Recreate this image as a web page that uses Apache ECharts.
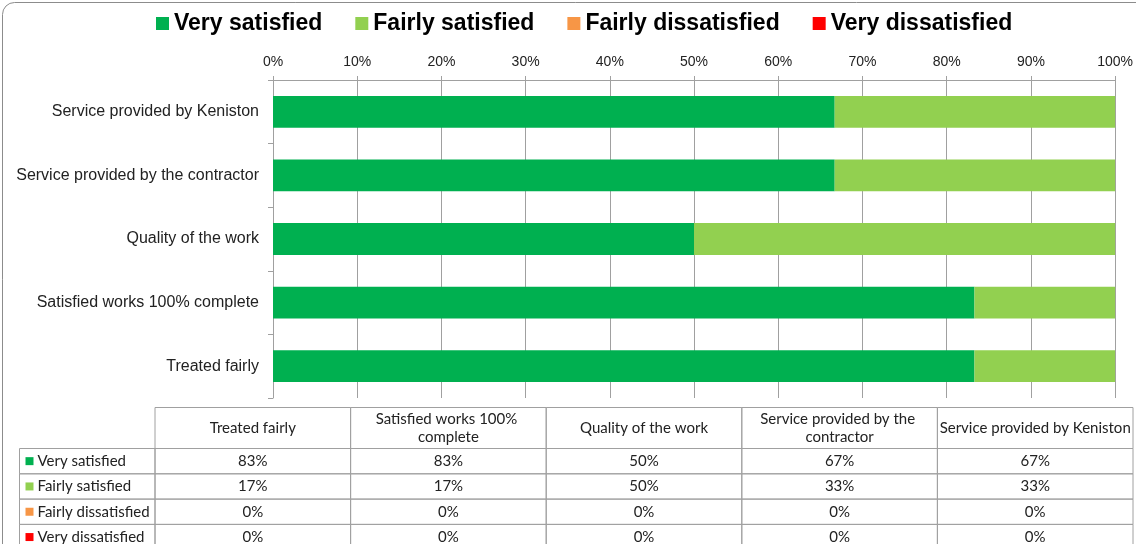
<!DOCTYPE html>
<html>
<head>
<meta charset="utf-8">
<script src="https://cdn.jsdelivr.net/npm/echarts@6/dist/echarts.min.js"></script>
<style>
  html, body { margin: 0; padding: 0; background: #fff; }
  #main { width: 1136px; height: 544px; }
</style>
</head>
<body>
<div id="main"></div>
<script>
// categories, bottom to top on the axis (same order as the table columns)
var categories = ['Treated fairly', 'Satisfied works 100% complete', 'Quality of the work',
  'Service provided by the contractor', 'Service provided by Keniston'];
var seriesNames = ['Very satisfied', 'Fairly satisfied', 'Fairly dissatisfied', 'Very dissatisfied'];
var verySatisfied = [83.3, 83.3, 50, 66.7, 66.7];
var fairlySatisfied = [16.7, 16.7, 50, 33.3, 33.3];
var fairlyDissatisfied = [0, 0, 0, 0, 0];
var veryDissatisfied = [0, 0, 0, 0, 0];
var colors = ['#00B050', '#92D050', '#F79646', '#FF0000'];

var allValues = [verySatisfied, fairlySatisfied, fairlyDissatisfied, veryDissatisfied];

var chart = echarts.init(document.getElementById('main'));

// data table under the plot, built from the same arrays
function buildTable() {
  var els = [];
  var left = 155, colW = 195.6, headTop = 407.5, headH = 41, rowH = 25.3, keyLeft = 19.5;
  var lineColor = '#a0a0a0';
  var font = '15px Lato';
  categories.forEach(function (c, i) {
    var x = left + i * colW;
    els.push({ type: 'rect', shape: { x: x, y: headTop, width: colW, height: headH },
      style: { fill: 'none', stroke: lineColor, lineWidth: 1 } });
    els.push({ type: 'text', x: x + colW / 2, y: headTop + headH / 2,
      style: { text: c, font: font, fill: '#222', align: 'center', verticalAlign: 'middle',
        width: colW, overflow: 'break', lineHeight: 18 } });
  });
  seriesNames.forEach(function (name, r) {
    var y = headTop + headH + r * rowH;
    els.push({ type: 'rect', shape: { x: keyLeft, y: y, width: left - keyLeft, height: rowH },
      style: { fill: 'none', stroke: lineColor, lineWidth: 1 } });
    els.push({ type: 'rect', shape: { x: keyLeft + 6, y: y + rowH / 2 - 4, width: 8, height: 8 },
      style: { fill: colors[r] } });
    els.push({ type: 'text', x: keyLeft + 18, y: y + rowH / 2,
      style: { text: name, font: font, fill: '#222', align: 'left', verticalAlign: 'middle' } });
    allValues[r].forEach(function (v, i) {
      var x = left + i * colW;
      els.push({ type: 'rect', shape: { x: x, y: y, width: colW, height: rowH },
        style: { fill: 'none', stroke: lineColor, lineWidth: 1 } });
      els.push({ type: 'text', x: x + colW / 2, y: y + rowH / 2,
        style: { text: Math.round(v) + '%', font: font, fill: '#222', align: 'center', verticalAlign: 'middle' } });
    });
  });
  // rounded outer frame of the chart area
  els.push({ type: 'rect', shape: { x: 2.5, y: 2.5, width: 1200, height: 600, r: 12 },
    style: { fill: 'none', stroke: '#8c8c8c', lineWidth: 1 }, z: -1 });
  return els;
}

var option = {
  animation: false,
  backgroundColor: '#ffffff',
  color: colors,
  legend: {
    data: seriesNames,
    left: 151,
    top: 7,
    icon: 'rect',
    itemWidth: 13,
    itemHeight: 13,
    itemGap: 33,
    textStyle: { fontFamily: 'Liberation Sans', fontWeight: 'bold', fontSize: 23, color: '#000' }
  },
  grid: { left: 273, right: 20, top: 80, height: 318, containLabel: false },
  xAxis: {
    type: 'value',
    position: 'top',
    min: 0,
    max: 100,
    interval: 10,
    axisLine: { show: true, lineStyle: { color: '#a0a0a0' } },
    axisTick: { show: true, length: 4, lineStyle: { color: '#a0a0a0' } },
    axisLabel: { formatter: '{value}%', fontFamily: 'Liberation Sans', fontSize: 14, color: '#222', margin: 11 },
    splitLine: { show: true, lineStyle: { color: '#a0a0a0' } }
  },
  yAxis: {
    type: 'category',
    data: categories,
    axisLine: { show: true, lineStyle: { color: '#a0a0a0' } },
    axisTick: { show: true, length: 5, lineStyle: { color: '#a0a0a0' } },
    axisLabel: { fontFamily: 'Liberation Sans', fontSize: 16, color: '#222', margin: 14 }
  },
  series: seriesNames.map(function (name, i) {
    return {
      name: name,
      type: 'bar',
      stack: 'total',
      barWidth: '50%',
      data: allValues[i]
    };
  }),
  graphic: buildTable()
};

chart.setOption(option);
</script>
</body>
</html>
